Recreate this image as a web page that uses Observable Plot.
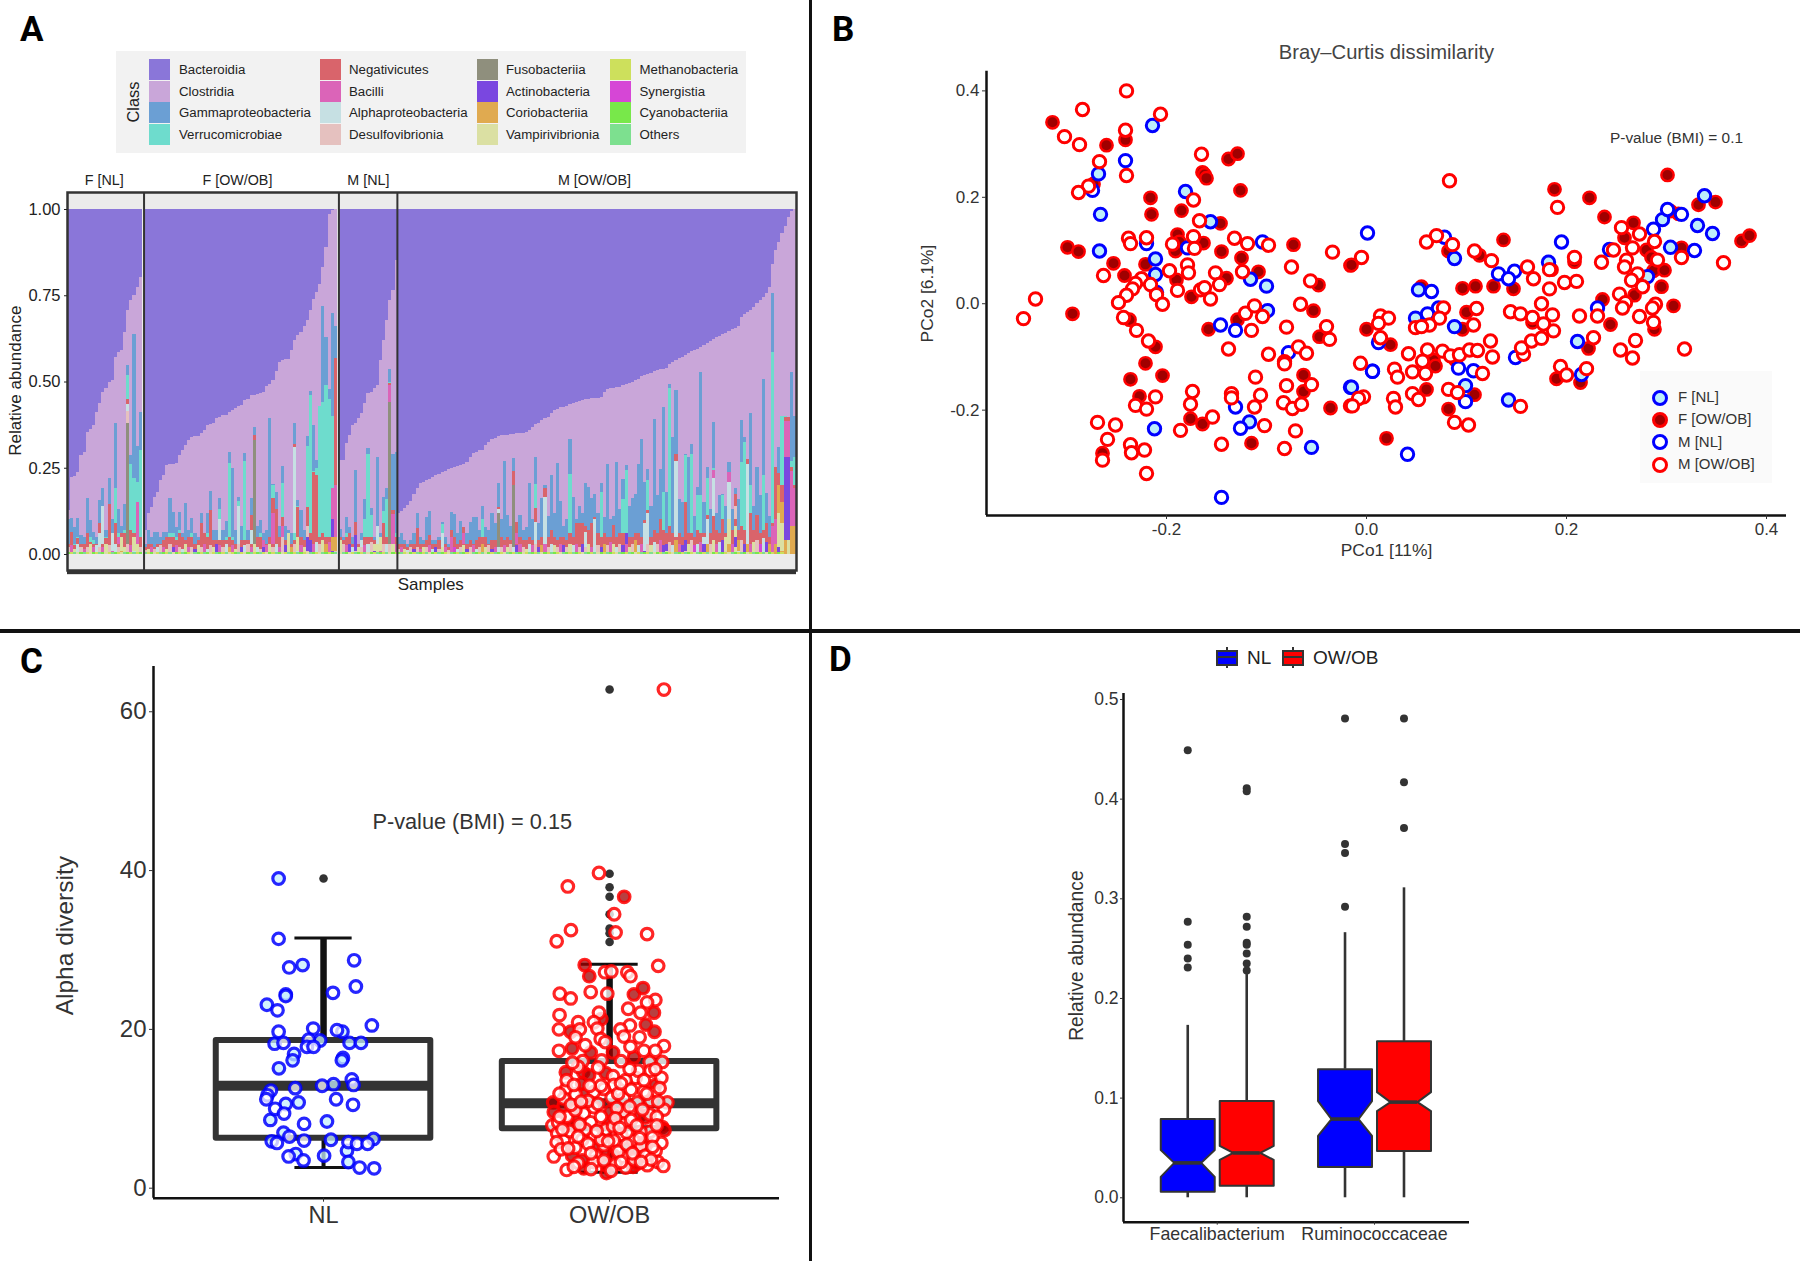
<!DOCTYPE html>
<html><head><meta charset="utf-8">
<script src="https://cdn.jsdelivr.net/npm/d3@7"></script>
<script src="https://cdn.jsdelivr.net/npm/@observablehq/plot@0.6"></script>
<style>
html,body{margin:0;padding:0;background:#fff}
#page{position:relative;width:1800px;height:1261px;overflow:hidden;font-family:"Liberation Sans",Arial,sans-serif;color:#222}
#page svg{position:absolute;left:0;top:0}
.abs{position:absolute;white-space:nowrap}
.letter{font-family:Roboto,sans-serif;font-weight:700;font-size:35px;line-height:35px;color:#000}
</style></head><body><div id="page"></div>
<script>
// ---------- Panel A : stacked relative abundance ----------
const classNames=["Bacteroidia","Clostridia","Gammaproteobacteria","Verrucomicrobiae","Negativicutes","Bacilli","Alphaproteobacteria","Desulfovibrionia","Fusobacteriia","Actinobacteria","Coriobacteriia","Vampirivibrionia","Methanobacteria","Synergistia","Cyanobacteriia","Others"];
const classColors=["#8a76d9","#c9a6d9","#6b9fd4","#6edccd","#d9646b","#db64b8","#c6e0e3","#e5c1bf","#8f8f7d","#7a47e0","#e0aa50","#dbe0a3","#cde05c","#d646d6","#78e84a","#7de08f"];
const facetLabels=["F [NL]","F [OW/OB]","M [NL]","M [OW/OB]"];
const clost1=[.128,.224,.226,.239,.287,.297,.355,.362,.374,.413,.437,.470,.480,.499,.505,.572,.586,.590,.644,.707,.735,.751,.775,.804];
const clost2=[.070,.118,.137,.166,.180,.214,.229,.258,.260,.262,.263,.287,.301,.316,.330,.340,.341,.342,.352,.360,.374,.377,.379,.393,.396,.402,.403,.412,.418,.424,.430,.432,.445,.450,.460,.462,.464,.467,.470,.488,.494,.504,.530,.556,.562,.564,.566,.590,.620,.636,.644,.660,.678,.707,.740,.760,.784,.832,.890,.985,.997,1];
const clost3=[.272,.272,.321,.345,.374,.380,.394,.408,.437,.466,.470,.480,.490,.563,.620,.678,.736,.765,.852];
const clost4=[.118,.125,.133,.143,.155,.175,.190,.205,.210,.214,.218,.224,.230,.233,.238,.242,.246,.250,.252,.254,.257,.262,.267,.280,.292,.297,.300,.302,.315,.326,.332,.337,.342,.344,.345,.346,.348,.349,.350,.351,.352,.355,.360,.368,.376,.381,.387,.393,.398,.408,.417,.421,.425,.427,.430,.434,.437,.440,.443,.447,.449,.450,.451,.452,.453,.454,.470,.478,.480,.482,.484,.485,.489,.492,.495,.498,.503,.508,.515,.520,.523,.526,.529,.532,.535,.537,.540,.550,.557,.562,.567,.572,.577,.582,.587,.590,.595,.600,.607,.613,.618,.623,.628,.632,.637,.641,.646,.651,.655,.662,.688,.695,.701,.707,.716,.727,.736,.745,.756,.775,.840,.880,.905,.930,.952,.978,.995,1];
const gamma1=[.100,.103,.079,.103,.055,.05,.161,.098,.065,.05,.156,.190,.07,.219,.10,.379,.130,.08,.145,.548,.287,.639,.313,.412];
const gamma2=[.03,.07,.05,.065,.065,.05,.065,.065,.161,.123,.079,.123,.06,.147,.07,.103,.06,.05,.118,.06,.118,.182,.07,.07,.163,.07,.096,.296,.248,.07,.166,.08,.292,.07,.161,.369,.08,.098,.06,.07,.393,.203,.18,.08,.255,.08,.07,.06,.380,.156,.127,.07,.342,.473,.374,.272,.398,.72,.63,.477,.70,.66];
const gamma3=[.071,.05,.108,.079,.05,.243,.03,.06,.159,.306,.132,.05,.280,.06,.166,.190,.535,.291,.296];
const gamma4=[.05,.06,.04,.03,.04,.06,.118,.05,.04,.108,.125,.04,.04,.05,.093,.05,.03,.122,.116,.06,.096,.079,.06,.093,.108,.108,.07,.139,.079,.07,.12,.09,.206,.10,.269,.113,.08,.277,.09,.113,.07,.079,.206,.10,.28,.09,.161,.20,.11,.229,.12,.265,.154,.08,.10,.332,.166,.10,.14,.12,.205,.195,.161,.173,.12,.206,.106,.261,.10,.11,.267,.13,.217,.258,.14,.163,.173,.261,.332,.209,.245,.14,.390,.17,.245,.425,.18,.494,.340,.475,.16,.15,.29,.282,.319,.11,.193,.528,.15,.253,.13,.383,.12,.17,.173,.14,.267,.13,.19,.16,.388,.338,.274,.409,.14,.253,.17,.506,.176,.11,.756,.23,.31,.40,.40,.34,.528,.40];
const verr1=[.03,.065,.03,.05,.03,.03,.06,.05,.04,.03,.09,.14,.05,.145,.06,.19,.06,.06,.07,.52,.26,.22,.21,.30];
const verr2=[.02,.03,.03,.02,.03,.03,.04,.05,.06,.06,.05,.07,.05,.04,.05,.06,.03,.04,.09,.06,.06,.127,.04,.04,.13,.04,.05,.263,.05,.03,.155,.04,.27,.04,.113,.05,.05,.06,.03,.03,.05,.20,.13,.05,.205,.04,.04,.03,.31,.14,.05,.04,.313,.461,.24,.25,.43,.44,.49,.45,.40,.567];
const verr3=[.05,.04,.06,.06,.03,.093,.03,.04,.10,.29,.113,.04,.06,.04,.125,.16,.50,.127,.06];
const verr4=[.03,.03,.03,.02,.03,.03,.074,.03,.03,.04,.055,.03,.03,.04,.088,.03,.02,.07,.05,.03,.04,.079,.03,.04,.03,.04,.05,.10,.05,.03,.04,.04,.137,.05,.04,.05,.04,.24,.093,.05,.04,.04,.05,.04,.204,.04,.05,.19,.05,.07,.05,.04,.05,.05,.04,.233,.05,.089,.089,.09,.08,.07,.09,.108,.06,.18,.06,.05,.05,.084,.05,.06,.16,.243,.05,.05,.06,.06,.05,.098,.214,.05,.07,.06,.10,.18,.06,.48,.06,.291,.06,.05,.287,.06,.29,.05,.17,.17,.06,.22,.06,.248,.07,.06,.17,.06,.238,.07,.175,.07,.267,.325,.274,.20,.07,.113,.06,.23,.09,.05,.586,.253,.235,.40,.40,.398,.27,.28];
const neg1=[.03,.065,.025,.045,.03,.03,.06,.035,.03,.03,.09,.04,.045,.145,.06,.09,.05,.06,.06,.45,.07,.06,.15,.05];
const neg2=[.02,.03,.03,.02,.03,.03,.04,.05,.05,.05,.04,.06,.05,.04,.05,.05,.03,.04,.09,.06,.05,.127,.04,.04,.05,.04,.04,.05,.04,.03,.05,.04,.04,.04,.113,.05,.05,.05,.03,.03,.05,.161,.13,.05,.108,.04,.04,.03,.04,.137,.05,.04,.137,.06,.238,.229,.05,.06,.05,.05,.19,.567];
const neg3=[.05,.04,.05,.06,.03,.093,.03,.04,.05,.05,.05,.04,.05,.04,.09,.05,.495,.127,.05];
const neg4=[.03,.03,.03,.02,.03,.03,.074,.03,.03,.04,.055,.03,.03,.04,.04,.03,.02,.07,.05,.03,.04,.079,.03,.04,.03,.04,.05,.05,.05,.03,.04,.04,.05,.05,.04,.05,.04,.05,.093,.05,.04,.04,.05,.04,.132,.04,.05,.06,.05,.07,.05,.04,.05,.05,.04,.06,.05,.089,.089,.09,.08,.07,.09,.108,.06,.05,.06,.05,.05,.084,.05,.06,.06,.06,.05,.05,.06,.06,.05,.098,.127,.05,.07,.06,.10,.07,.06,.08,.06,.291,.06,.05,.151,.06,.06,.05,.07,.06,.06,.113,.06,.243,.07,.06,.10,.06,.238,.07,.175,.07,.08,.07,.274,.118,.07,.113,.06,.07,.09,.05,.09,.253,.235,.20,.398,.398,.253,.20];
const low1=[.02,.025,.015,.03,.02,.015,.02,.03,.02,.025,.04,.02,.03,.025,.02,.03,.02,.03,.02,.03,.025,.04,.03,.02];
const low2=[.012,.015,.02,.015,.02,.025,.02,.015,.03,.02,.025,.02,.015,.03,.02,.02,.015,.025,.02,.03,.015,.025,.02,.03,.025,.02,.03,.02,.025,.015,.03,.02,.025,.03,.02,.03,.02,.015,.02,.025,.03,.02,.03,.02,.035,.025,.03,.02,.03,.035,.025,.02,.03,.04,.03,.035,.03,.04,.03,.035,.05,.04];
const low3=[.04,.03,.025,.03,.02,.03,.02,.03,.025,.03,.035,.03,.04,.025,.03,.03,.035,.03,.03];
const low4=[.015,.02,.015,.012,.02,.015,.02,.015,.02,.02,.025,.015,.02,.015,.025,.02,.012,.025,.02,.015,.02,.025,.015,.02,.025,.015,.02,.03,.02,.025,.015,.02,.03,.02,.025,.02,.03,.02,.025,.03,.02,.015,.03,.025,.03,.02,.025,.03,.02,.03,.025,.02,.03,.025,.02,.03,.025,.03,.02,.03,.025,.03,.02,.03,.025,.02,.03,.025,.035,.03,.02,.03,.025,.035,.02,.03,.04,.025,.03,.035,.03,.025,.035,.03,.04,.025,.03,.035,.025,.04,.03,.025,.035,.03,.04,.025,.03,.035,.03,.04,.03,.04,.03,.035,.04,.03,.04,.03,.045,.035,.04,.03,.04,.03,.035,.04,.03,.045,.035,.03,.05,.05,.06,.05,.05,.06,.05,.06];
const lowLetters="DBVADBDVBADBVDBADCVDBAVD"+"DVBDADBVDTBDAVBDTVDBADVTBDACBVDTADBVADTBVDABDTVCDABVDTBADVCBTD"+"VDBTADVDBADTVBDADVB"+"DBVADTDBVDBATDVBDBSADVTDBADCVDTBADBVDATBDVABDTCBDAVDBTDVABDTDVBADTCDBVADTBVDCABTDVADBTVDACBTDVDSABTCDVBATDCBVADTCBVDSATCBVTC";
const baseLetters="YMOVYOMVYMOYVMOYMVOYMOMY"+"OMYVMOYMOVYMOYMVOYMOYVMOYMOVMYOMVYOMYOMVYMOYVMOYMOYMVOYMVOYMYO"+"MOYVMOYMOVYMOYMOVYM"+"YOMVYMOYMOVYMOYMVOYMOYMVOYMOVYMOYMVOYMOYVMOYMOVYMOYMVOYMOYMVOYMOVYMOYMVOYMOYVMOYMOVYMOYMVOYMOYMVOYMOVYMOYMVOYMOYVMOYMOVYMOYM";
// [facet, sample, class, from, to]
const accentList=[
[0,19,8,.03,.38],[0,19,7,.38,.415],[0,19,6,.415,.435],[0,10,6,.02,.06],[0,11,6,.03,.14],[0,14,6,.01,.06],[0,22,5,.03,.15],[0,16,5,.03,.05],[0,17,11,.01,.05],[0,21,11,.01,.05],
[1,30,6,.03,.14],[1,35,8,.03,.33],[1,35,4,.33,.345],[1,48,6,.06,.31],[1,48,4,.31,.32],[1,24,6,.04,.10],[1,34,6,.03,.07],[1,44,7,.03,.08],[1,46,11,.02,.06],[1,52,7,.05,.08],[1,52,9,.01,.05],[1,60,5,.10,.19],[1,60,9,.03,.10],[1,60,10,.01,.05],[1,61,5,.05,.20],[1,61,10,.01,.05],[1,38,5,.02,.04],[1,41,5,.03,.12],[1,44,5,.05,.08],[1,54,5,.01,.03],[1,49,11,.01,.05],
[2,16,8,.03,.44],[2,16,5,.44,.49],[2,17,5,.03,.115],[2,0,11,.0,.04],[2,5,9,.01,.055],[2,12,6,.03,.08],[2,11,11,.01,.03],[2,7,6,.02,.04],[2,13,11,.01,.05],
[3,32,8,.02,.118],[3,32,6,.118,.13],[3,32,4,.13,.137],[3,37,8,.02,.20],[3,37,4,.20,.24],[3,14,6,.02,.06],[3,44,6,.03,.093],[3,47,6,.03,.166],[3,47,4,.166,.19],[3,17,5,.02,.05],[3,21,5,.03,.06],[3,38,5,.03,.06],
[3,60,6,.02,.065],[3,63,6,.03,.10],[3,79,6,.01,.09],[3,80,6,.03,.12],[3,89,6,.05,.27],[3,101,6,.11,.22],[3,101,5,.22,.243],[3,99,6,.03,.10],[3,106,11,.03,.10],[3,106,6,.10,.21],[3,106,5,.21,.238],[3,112,6,.03,.26],[3,73,9,.03,.06],[3,86,9,.01,.03],[3,92,9,.01,.04],[3,98,6,.03,.05],[3,108,9,.02,.05],[3,108,11,.05,.08],[3,108,7,.10,.14],[3,109,10,.01,.04],[3,105,11,.01,.05],
[3,121,10,.0,.03],[3,121,5,.03,.10],[3,122,11,.02,.12],[3,122,10,.12,.20],[3,123,10,.04,.15],[3,123,11,.01,.09],[3,124,5,.28,.385],[3,124,9,.04,.28],[3,124,10,.0,.04],[3,125,5,.28,.385],[3,125,9,.04,.28],[3,125,11,.0,.04],[3,126,10,.0,.08],[3,126,5,.08,.24],[3,127,10,.0,.08],[3,127,5,.08,.19],[3,120,5,.01,.08]];
const classOfLetter={B:5,A:6,D:7,F:8,T:9,C:10,V:11,M:12,S:13,Y:14,O:15};
const clostTop=[...clost1,...clost2,...clost3,...clost4], gammaTop=[...gamma1,...gamma2,...gamma3,...gamma4], verrTop=[...verr1,...verr2,...verr3,...verr4], negTop=[...neg1,...neg2,...neg3,...neg4], lowTop=[...low1,...low2,...low3,...low4];
const facetSizes=[clost1.length,clost2.length,clost3.length,clost4.length];
const facetShift=[0,.55,1.05,.8];
const facetStart=[0,facetSizes[0],facetSizes[0]+facetSizes[1],facetSizes[0]+facetSizes[1]+facetSizes[2]];
const nSamples=clostTop.length;
const shiftOf=i=>facetShift[facetStart.findLastIndex(s=>s<=i)];
const sampleRows=[];
clostTop.forEach((c,i)=>{
  sampleRows.push({i,k:0,y1:c,y2:1},{i,k:1,y1:0,y2:c},{i,k:2,y1:0,y2:gammaTop[i]},{i,k:3,y1:0,y2:verrTop[i]},{i,k:4,y1:0,y2:negTop[i]},
   {i,k:classOfLetter[lowLetters[i]]??7,y1:0,y2:lowTop[i]},{i,k:classOfLetter[baseLetters[i]]??15,y1:0,y2:.006});
});
accentList.forEach(([f,s,k,a,b])=>sampleRows.push({i:facetStart[f]+s,k,y1:a,y2:b}));
const facetEdges=facetStart.slice(1).map((s,j)=>s+facetShift[j+1]);

// ---------- Panel B : PCoA ----------
const fnPoints=[[-.214,.335],[-.268,.244],[-.181,.211],[-.266,.168],[-.267,.099],[-.156,.154],[-.211,.084],[-.211,.055],[-.116,.046],[-.100,.033],[-.099,-.013],[-.212,-.235],[-.117,-.222],[-.055,-.270],[-.016,-.157],[.338,.203],[.296,.158],[.331,.147],[.346,.132],[.304,.106],[.281,.051],[.182,.078],[.088,.085],[.052,.026],[.049,-.027],[.088,-.043],[.006,-.127],[-.015,-.157],[.099,-.154],[.142,-.181],[.211,-.071],[.215,-.133]];
const mnPoints=[[-.241,.269],[-.274,.213],[-.220,.113],[-.179,.105],[-.104,.116],[-.210,.021],[-.131,-.194],[-.126,-.234],[-.145,-.364],[-.146,-.040],[-.131,-.050],[-.078,-.092],[.001,.133],[.301,.177],[.315,.168],[.328,.100],[.287,.140],[.243,.102],[.231,-.008],[.195,.116],[.148,.061],[.132,.056],[.142,.047],[.065,.023],[.078,.125],[.072,-.008],[.061,-.019],[.012,-.073],[.092,-.121],[.107,-.126],[.099,-.184],[.041,-.283],[.149,-.101],[.006,-.127]];
const foPoints=[[-.314,.341],[-.260,.298],[-.241,.308],[-.273,.225],[-.216,.199],[-.215,.168],[-.185,.175],[-.164,.247],[-.162,.243],[-.160,.236],[-.138,.272],[-.129,.282],[-.126,.213],[-.146,.151],[-.299,.106],[-.288,.098],[-.189,.130],[-.187,.116],[-.191,.099],[-.163,.114],[-.145,.098],[-.073,.111],[-.016,.072],[-.253,.076],[-.221,.074],[-.242,.053],[-.190,.045],[-.175,.013],[-.140,.048],[-.125,.086],[-.108,.060],[-.048,.035],[-.053,-.013],[-.294,-.019],[-.237,-.030],[-.211,-.081],[-.221,-.112],[-.236,-.142],[-.204,-.135],[-.227,-.174],[-.176,-.216],[-.164,-.226],[-.264,-.281],[-.115,-.262],[-.063,-.165],[-.063,-.134],[-.036,-.196],[-.158,-.048],[-.129,-.030],[-.047,-.062],[-.015,.073],[.188,.215],[.223,.199],[.238,.163],[.301,.242],[.349,.191],[.332,.186],[.304,.174],[.312,.169],[.375,.118],[.383,.128],[.315,.105],[.267,.152],[.258,.124],[.280,.101],[.285,.087],[.287,.062],[.298,.063],[.295,.032],[.268,.016],[.307,-.004],[.236,.008],[.208,.079],[.185,.064],[.147,.028],[.127,.033],[.109,.033],[.096,.029],[.055,.032],[.113,.091],[.137,.120],[.082,.099],[.100,-.016],[.096,-.048],[.000,-.048],[.024,-.077],[.089,-.106],[.067,-.106],[.069,-.117],[.060,-.161],[.108,-.171],[.082,-.198],[.020,-.253],[.166,-.035],[.244,-.039],[.288,-.048],[.222,-.084],[.190,-.141],[.214,-.148]];
const moPoints=[[-.240,.400],[-.284,.365],[-.206,.356],[-.302,.314],[-.287,.299],[-.241,.326],[-.267,.267],[-.240,.241],[-.278,.221],[-.288,.209],[-.173,.195],[-.165,.281],[-.167,.156],[-.238,.123],[-.236,.113],[-.220,.124],[-.194,.112],[-.173,.126],[-.172,.104],[-.132,.123],[-.119,.113],[-.098,.110],[-.034,.097],[-.197,.062],[-.179,.073],[-.178,.058],[-.263,.053],[-.225,.047],[-.231,.038],[-.216,.036],[-.189,.025],[-.234,.028],[-.240,.016],[-.248,.002],[-.210,.017],[-.204,-.001],[-.166,.026],[-.162,.030],[-.156,.009],[-.151,.058],[-.147,.036],[-.124,.060],[-.075,.069],[-.056,.043],[-.331,.009],[-.066,-.001],[-.343,-.028],[-.243,-.026],[-.230,-.050],[-.218,-.070],[-.211,-.175],[-.231,-.191],[-.220,-.198],[-.174,-.165],[-.176,-.189],[-.154,-.213],[-.186,-.238],[-.269,-.223],[-.251,-.228],[-.259,-.255],[-.236,-.265],[-.235,-.280],[-.222,-.275],[-.264,-.294],[-.220,-.319],[-.145,-.264],[-.082,-.272],[-.071,-.239],[-.102,-.229],[-.135,-.169],[-.135,-.177],[-.112,-.194],[-.106,-.172],[-.111,-.138],[-.083,-.186],[-.080,-.154],[-.074,-.197],[-.065,-.189],[-.055,-.152],[-.016,-.192],[-.098,-.095],[-.138,-.085],[-.121,-.018],[-.115,-.050],[-.112,-.004],[-.104,-.024],[-.080,-.044],[-.040,-.043],[-.037,-.067],[-.068,-.081],[-.060,-.093],[-.082,-.109],[-.082,-.113],[.083,.231],[-.005,.087],[.191,.181],[.357,.077],[.315,.087],[.288,.117],[.255,.143],[.273,.131],[.266,.105],[.247,.101],[.291,.082],[.260,.082],[.258,.069],[.271,.056],[.265,.044],[.276,.032],[.253,.018],[.259,.002],[.289,-.001],[.286,-.008],[.235,.078],[.208,.087],[.183,.064],[.161,.069],[.167,.047],[.183,.028],[.198,.040],[.210,.042],[.175,.000],[.125,.081],[.108,.099],[.060,.116],[.070,.128],[.086,.111],[.077,-.008],[.073,-.027],[.063,-.040],[.049,-.045],[.055,-.043],[.110,-.009],[.107,-.040],[.014,-.023],[.022,-.027],[.012,-.037],[.014,-.064],[.042,-.094],[.061,-.087],[.076,-.089],[.084,-.098],[.093,-.096],[.103,-.087],[.111,-.088],[.124,-.070],[.126,-.100],[.116,-.131],[.056,-.108],[.059,-.131],[.046,-.128],[.028,-.123],[.031,-.138],[-.006,-.112],[-.003,-.175],[-.008,-.178],[-.014,-.192],[.027,-.178],[.029,-.194],[.046,-.169],[.052,-.180],[.082,-.161],[.091,-.167],[.088,-.223],[.102,-.228],[.154,-.193],[.157,-.095],[.155,-.083],[.165,-.070],[.175,-.065],[.187,-.051],[.144,-.015],[.154,-.019],[.166,-.026],[.177,-.038],[.186,-.021],[.213,-.023],[.231,-.023],[.227,-.064],[.254,-.087],[.269,-.069],[.266,-.102],[.318,-.085],[.273,-.024],[.256,-.008],[.287,-.035],[.194,-.118],[.200,-.134],[.220,-.122]];
const pcoTicksX=[-.2,0,.2,.4], pcoTicksY=[-.2,0,.2,.4];

// ---------- Panel C : alpha diversity ----------
const alphaGroups=["NL","OW/OB"];
const alphaQ1=[6.3,7.5], alphaMedian=[12.9,10.7], alphaQ3=[18.6,15.95], alphaLow=[2.6,2.0], alphaHigh=[31.5,28.2];
const nlOutliers=[39], owOutliers=[62.8,39.6,37.9,36.7,34.5,32.7,32.1,31.0];
const nlFemale=[[-.157,39],[-.073,28.1],[-.132,24.4],[-.132,24.2],[-.198,23.1],[.066,19.7],[-.012,18.6],[-.171,18.2],[.091,18.3],[.131,18.3],[-.103,16.9],[.068,16.4],[.064,16.1],[-.156,15.1],[.035,13.1],[-.087,10.8],[-.132,10.6],[-.186,8.6],[.012,8.4],[-.140,7.0],[-.181,5.9],[.026,6.1],[.175,6.2],[.082,4.7],[-.097,4.3],[.002,4.1],[.087,3.3],[-.108,16.1]];
const nlMale=[[-.157,31.4],[-.120,27.8],[.107,28.7],[.113,25.4],[.033,24.6],[-.161,22.4],[.169,20.5],[-.036,20.1],[-.157,19.7],[.047,19.9],[-.052,18.7],[-.140,18.3],[-.058,17.8],[-.035,17.8],[.099,13.7],[.105,13.0],[-.005,12.9],[-.099,12.6],[-.184,12.3],[-.196,11.7],[-.200,11.2],[.044,11.2],[.103,10.5],[-.169,10.0],[-.138,9.4],[-.068,8.1],[-.119,6.5],[-.163,5.7],[-.068,6.0],[.087,5.8],[.117,5.6],[.154,5.6],[-.122,4.0],[-.070,3.5],[.126,2.6],[.177,2.5]];
const owFemale=[[.051,36.7],[-.087,28.1],[-.071,26.7],[.117,25.2],[.085,24.4],[.155,22.1],[-.029,21.3],[.127,20.6],[.157,19.7],[-.136,19.7],[-.131,17.6],[-.066,17.1],[.012,17.1],[.085,16.5],[-.153,14.6],[-.092,14.6],[-.014,14.5],[-.072,14.2],[-.096,13.2],[.161,13.0],[-.086,11.8],[-.197,10.8],[-.115,10.2],[-.195,9.6],[.003,9.7],[.108,9.2],[-.113,8.5],[-.002,8.1],[.184,7.7],[.192,7.3],[.126,5.7],[.062,5.0],[-.043,5.0],[-.011,4.4],[-.131,4.1],[.015,4.1],[.097,4.5],[-.096,3.5],[-.090,2.5],[-.011,1.9],[-.011,2.9],[.082,2.7],[.097,3.1],[.125,8.9],[-.160,10.4],[.040,9.0],[-.130,7.9]];
const owMale=[[-.037,39.7],[-.146,38.0],[.016,34.5],[.021,32.2],[.131,32.0],[-.135,32.5],[-.185,31.1],[.170,28.0],[-.016,27.2],[.006,27.3],[.062,27.2],[.073,26.7],[-.174,24.5],[-.136,23.9],[-.066,24.7],[-.008,24.5],[.160,23.7],[.131,23.4],[.065,22.6],[.108,22.1],[-.175,21.8],[-.037,22.1],[-.110,20.9],[-.055,20.9],[.071,20.5],[-.177,20.0],[-.104,20.0],[-.043,20.1],[.038,20.0],[-.119,19.0],[.105,19.0],[-.031,18.8],[.050,19.1],[.190,17.9],[.073,17.8],[-.177,17.3],[-.028,16.1],[-.094,16.0],[.140,15.9],[.184,15.9],[.143,14.8],[.012,14.1],[.091,13.9],[.056,13.6],[.181,13.9],[.015,13.0],[-.152,12.5],[-.020,12.5],[-.055,12.1],[.157,12.0],[-.119,11.8],[-.160,11.3],[.007,11.4],[.050,11.3],[.097,10.8],[.143,11.0],[.202,10.8],[-.090,9.4],[-.148,9.0],[-.055,10.2],[.050,9.6],[.140,9.3],[.190,9.9],[-.200,7.9],[-.066,8.3],[.048,8.1],[.141,7.1],[.108,7.1],[-.183,6.9],[-.014,7.4],[.041,6.7],[-.096,6.1],[-.160,6.0],[-.055,6.7],[.083,6.0],[.015,6.0],[.181,5.7],[-.185,5.8],[-.020,5.4],[.161,4.7],[-.195,4.0],[.050,3.9],[-.049,4.1],[-.150,2.3],[.056,2.6],[.132,2.9],[.169,3.3],[.188,2.8],[-.055,3.3],[-.030,12.9],[.075,12.4],[.120,12.2],[-.120,9.8],[-.030,9.0],[.025,10.1],[.075,8.6],[.165,9.0],[-.140,7.2],[-.085,7.4],[.012,7.8],[.060,7.0],[.150,6.4],[-.120,5.1],[-.030,6.1],[.110,5.3],[-.170,4.9],[.030,4.6],[.125,4.1],[-.110,3.2],[.020,3.0],[.100,14.8],[-.040,15.2],[.160,15.0],[-.110,15.3],[.030,11.9],[-.075,11.0],[.130,11.9],[-.180,8.3],[.085,3.6],[-.150,13.6],[-.125,13.0],[-.070,12.9],[.040,13.2],[.070,15.0],[.120,13.6],[.175,12.6],[-.175,11.9],[-.135,10.5],[-.100,10.9],[-.040,10.6],[.020,8.8],[.070,10.3],[.115,9.9],[.170,10.9],[-.175,9.0],[-.105,8.0],[-.045,7.2],[.035,7.6],[.095,7.9],[.165,7.9],[-.165,7.4],[-.110,6.5],[-.075,5.6],[-.005,5.9],[.060,5.5],[.105,6.3],[.150,5.2],[-.145,5.0],[-.065,4.4],[-.020,3.5],[.040,3.3],[.080,4.4],[.145,3.6],[-.125,2.7],[-.065,2.4],[.005,2.2],[.110,3.3],[-.085,18.0],[-.015,18.4],[.120,17.3],[.160,17.3],[-.130,15.8],[.040,16.0]];

// ---------- Panel D : taxa box plots ----------
const taxa=["Faecalibacterium","Ruminococcaceae"];
const boxGroups=["NL","OW/OB"];
const nlBox={q1:[.006,.031],notchLow:[.021,.062],median:[.035,.079],notchHigh:[.048,.097],q3:[.079,.129],high:[.173,.266],low:[0,0]};
const owBox={q1:[.012,.047],notchLow:[.038,.087],median:[.045,.096],notchHigh:[.052,.106],q3:[.097,.157],high:[.224,.311],low:[0,0]};
const nlTaxaOutliers=[[.449,.277,.254,.240,.231],[.481,.355,.346,.292]];
const owTaxaOutliers=[[.411,.408,.282,.272,.256,.254,.245,.235,.228],[.481,.417,.371]];

// ---------- layout helpers ----------
const page=document.getElementById("page");
const txt="#222";
function frameOf(L,T,R,B){return {width:1800,height:1261,marginLeft:L,marginRight:1800-R,marginTop:T,marginBottom:1261-B,style:{background:"transparent",fontFamily:'"Liberation Sans",Arial,sans-serif',overflow:"visible"}};}
function add(n){page.appendChild(n);}
function div(css,text){const d=document.createElement("div");d.className="abs";d.style.cssText=css;if(text!=null)d.textContent=text;page.appendChild(d);return d;}

// Panel A plot
const xMaxA=nSamples+facetShift[3];
add(Plot.plot({...frameOf(67,192,796,570),
 x:{domain:[0,xMaxA],axis:null},
 y:{domain:[-.0464,1.0493],axis:null},
 color:{domain:d3.range(16),range:classColors},
 marks:[
  Plot.frame({fill:"#ebebeb"}),
  Plot.rect(sampleRows,{x1:d=>d.i+shiftOf(d.i),x2:d=>d.i+shiftOf(d.i)+1,y1:"y1",y2:"y2",fill:"k",shapeRendering:"crispEdges"}),
  Plot.ruleX(facetEdges,{stroke:"#333",strokeWidth:2}),
  Plot.frame({stroke:"#333",strokeWidth:2.5}),
  Plot.rect([0],{x1:0,x2:xMaxA,y1:-.0464,y2:-.0585,fill:"#333"}),
  Plot.axisY({ticks:[0,.25,.5,.75,1],tickFormat:d=>d.toFixed(2),label:null,tickSize:3,tickPadding:4,fontSize:16.5,color:txt}),
  Plot.text(facetLabels,{x:[11.8,54.5,96.5,169],y:1.085,fontSize:14.3,fill:txt}),
  Plot.text(["Samples"],{x:116.5,y:-.087,fontSize:17,fill:txt}),
  Plot.text(["Relative abundance"],{x:-16.8,y:.504,rotate:-90,fontSize:17,fill:txt})
 ]}));
// Panel A legend
div("left:116px;top:51px;width:630px;height:102px;background:#f2f2f2");
div("left:133px;top:102px;font-size:16.4px;transform:translate(-50%,-50%) rotate(-90deg)","Class");
const legCols=[[149,179],[320,349],[477,506],[610,639.5]];
classNames.forEach((n,i)=>{
 const c=legCols[Math.floor(i/4)], top=58.8+21.75*(i%4);
 div(`left:${c[0]}px;top:${top}px;width:21px;height:21px;background:${classColors[i]}`);
 div(`left:${c[1]}px;top:${top+3}px;font-size:13.25px;line-height:16px`,n);
});

// Panel B plot
function ringDots(data,stroke,fill,sw=3){return Plot.dot(data,{x:d=>d[0],y:d=>d[1],r:6.2,stroke,fill,strokeWidth:sw});}
add(Plot.plot({...frameOf(986,70.7,1786,515),
 x:{domain:[-.38,.42],axis:null},
 y:{domain:[-.398,.437],axis:null},
 marks:[
  ringDots(foPoints,"#ff0000","#a00000",2.4),
  ringDots(fnPoints,"#0000ff","#bdeefb"),
  ringDots(mnPoints,"#0000ff","#ffffff"),
  ringDots(moPoints,"#ff0000","#ffffff"),
  Plot.ruleX([-.38],{stroke:"#111",strokeWidth:2.5}),
  Plot.ruleY([-.398],{stroke:"#111",strokeWidth:2.5}),
  Plot.axisX({ticks:pcoTicksX,tickFormat:d=>d.toFixed(1),label:null,tickSize:4,tickPadding:3,fontSize:17,color:"#333"}),
  Plot.axisY({ticks:pcoTicksY,tickFormat:d=>d.toFixed(1),label:null,tickSize:4,tickPadding:3,fontSize:17,color:"#333"}),
  Plot.text(["Bray–Curtis dissimilarity"],{x:.02,y:.472,fontSize:20.2,fill:"#444"}),
  Plot.text(["P-value (BMI) = 0.1"],{x:.31,y:.312,fontSize:15.4,fill:"#333"}),
  Plot.text(["PCo1 [11%]"],{x:.02,y:-.464,fontSize:17.4,fill:"#333"}),
  Plot.text(["PCo2 [6.1%]"],{x:-.439,y:.019,rotate:-90,fontSize:17.4,fill:"#333"})
 ]}));
// Panel B legend
div("left:1640px;top:371px;width:132px;height:112px;background:#fafafa");
[["F [NL]","#0000ff","#bdeefb"],["F [OW/OB]","#ff0000","#a00000"],["M [NL]","#0000ff","#fff"],["M [OW/OB]","#ff0000","#fff"]].forEach((e,i)=>{
 const y=397+22.4*i;
 div(`left:1651.5px;top:${y-7.5}px;width:10px;height:10px;border-radius:50%;border:3px solid ${e[1]};background:${e[2]}`);
 div(`left:1678px;top:${y-9}px;font-size:15px;line-height:18px;color:#333`,e[0]);
});

// Panel C plot
function jitterDots(data,center,stroke,fill,fo){return Plot.dot(data,{x:d=>center+d[0],y:d=>d[1],r:5.8,stroke,strokeOpacity:.85,strokeWidth:3.2,fill,fillOpacity:fo});}
const alphaIdx=[0,1];
add(Plot.plot({...frameOf(153,666,779,1197.7),
 x:{domain:[.4056,2.594],axis:null},
 y:{domain:[-1.26,65.7],axis:null},
 marks:[
  Plot.ruleX(alphaIdx,{x:i=>i+1,y1:i=>alphaQ3[i],y2:i=>alphaHigh[i],stroke:"#111",strokeWidth:6.5}),
  Plot.ruleX(alphaIdx,{x:i=>i+1,y1:i=>alphaLow[i],y2:i=>alphaQ1[i],stroke:"#111",strokeWidth:4}),
  Plot.ruleY(alphaIdx,{y:i=>alphaHigh[i],x1:i=>i+.9,x2:i=>i+1.1,stroke:"#111",strokeWidth:3}),
  Plot.ruleY(alphaIdx,{y:i=>alphaLow[i],x1:i=>i+.9,x2:i=>i+1.1,stroke:"#111",strokeWidth:3}),
  Plot.rect(alphaIdx,{x1:i=>i+1-.375,x2:i=>i+1+.375,y1:i=>alphaQ1[i],y2:i=>alphaQ3[i],fill:"none",stroke:"#333",strokeWidth:6,strokeLinejoin:"round"}),
  Plot.ruleY(alphaIdx,{y:i=>alphaMedian[i],x1:i=>i+1-.375,x2:i=>i+1+.375,stroke:"#333",strokeWidth:10}),
  Plot.dot(nlOutliers,{x:()=>1,y:d=>d,r:4.3,fill:"#333"}),
  Plot.dot(owOutliers,{x:()=>2,y:d=>d,r:4.3,fill:"#333"}),
  jitterDots(nlFemale,1,"#0000ff","#c4eefc",.75),
  jitterDots(nlMale,1,"#0000ff","#ffffff",.75),
  jitterDots(owFemale,2,"#ff0000","#a00000",.75),
  jitterDots(owMale,2,"#ff0000","#ffffff",.78),
  jitterDots([[.19,62.8]],2,"#ff0000","#ffffff",.8),
  Plot.ruleX([.4056],{stroke:"#111",strokeWidth:2.5}),
  Plot.ruleY([-1.26],{stroke:"#111",strokeWidth:2.5}),
  Plot.axisX({ticks:[1,2],tickFormat:d=>alphaGroups[d-1],label:null,tickSize:4,tickPadding:4,fontSize:23.5,color:"#333"}),
  Plot.axisY({ticks:[0,20,40,60],label:null,tickSize:4,tickPadding:3,fontSize:24,color:"#333"}),
  Plot.text(["P-value (BMI) = 0.15"],{x:1.52,y:46.1,fontSize:21.7,fill:"#333"}),
  Plot.text(["Alpha diversity"],{x:.098,y:31.8,rotate:-90,fontSize:24.5,fill:"#333"})
 ]}));

// Panel D plot
const halfBox=.1716, dodge=.1875;
function notched(box,side){
 return [0,1].flatMap(t=>{
  const c=t+1+side*dodge, w=halfBox;
  const p=[[c-w,box.q1[t]],[c+w,box.q1[t]],[c+w,box.notchLow[t]],[c+w/2,box.median[t]],[c+w,box.notchHigh[t]],[c+w,box.q3[t]],[c-w,box.q3[t]],[c-w,box.notchHigh[t]],[c-w/2,box.median[t]],[c-w,box.notchLow[t]],[c-w,box.q1[t]]];
  return p.map(q=>({id:t,x:q[0],y:q[1]}));
 });
}
function boxMarks(box,out,side,color){
 const idx=[0,1];
 return [
  Plot.ruleX(idx,{x:t=>t+1+side*dodge,y1:t=>box.low[t],y2:t=>box.q1[t],stroke:"#333",strokeWidth:2.6}),
  Plot.ruleX(idx,{x:t=>t+1+side*dodge,y1:t=>box.q3[t],y2:t=>box.high[t],stroke:"#333",strokeWidth:2.6}),
  Plot.line(notched(box,side),{x:"x",y:"y",z:"id",fill:color,stroke:"#333",strokeWidth:2,curve:"linear"}),
  Plot.ruleY(idx,{y:t=>box.median[t],x1:t=>t+1+side*dodge-halfBox/2,x2:t=>t+1+side*dodge+halfBox/2,stroke:"#333",strokeWidth:3.6}),
  Plot.dot(out.flatMap((o,t)=>o.map(v=>[t+1+side*dodge,v])),{x:d=>d[0],y:d=>d[1],r:4,fill:"#333"})
 ];
}
add(Plot.plot({...frameOf(1123,693,1469,1221.7),
 x:{domain:[.404,2.604],axis:null},
 y:{domain:[-.0245,.506],axis:null},
 marks:[
  ...boxMarks(nlBox,nlTaxaOutliers,-1,"#0000ff"),
  ...boxMarks(owBox,owTaxaOutliers,1,"#ff0000"),
  Plot.ruleX([.404],{stroke:"#111",strokeWidth:2.5}),
  Plot.ruleY([-.0245],{stroke:"#111",strokeWidth:2.5}),
  Plot.axisX({ticks:[1,2],tickFormat:d=>taxa[d-1],label:null,tickSize:3,tickPadding:2,fontSize:17.8,color:"#333"}),
  Plot.axisY({ticks:[0,.1,.2,.3,.4,.5],tickFormat:d=>d.toFixed(1),label:null,tickSize:3,tickPadding:2,fontSize:17.5,color:"#333"}),
  Plot.text(["Relative abundance"],{x:.106,y:.243,rotate:-90,fontSize:19.3,fill:"#333"})
 ]}));
// Panel D legend
[[1216,"#0000ff",1247,boxGroups[0]],[1282,"#ff0000",1313,boxGroups[1]]].forEach(e=>{
 div(`left:${e[0]+10}px;top:647px;width:2px;height:21px;background:#333`);
 div(`left:${e[0]}px;top:650px;width:18px;height:12px;border:2px solid #333;background:${e[1]}`);
 div(`left:${e[0]}px;top:656px;width:22px;height:2px;background:#333`);
 div(`left:${e[2]}px;top:647px;font-size:19px;line-height:22px;color:#222`,e[3]);
});

// Dividers and panel letters
div("left:809px;top:0;width:3px;height:1261px;background:#111");
div("left:0;top:629px;width:1800px;height:3.5px;background:#111");
[["A",20,12],["B",832,12],["C",20,644],["D",829,642]].forEach(l=>{
 const d=div(`left:${l[1]}px;top:${l[2]}px`,l[0]); d.classList.add("letter");
});
</script></body></html>
